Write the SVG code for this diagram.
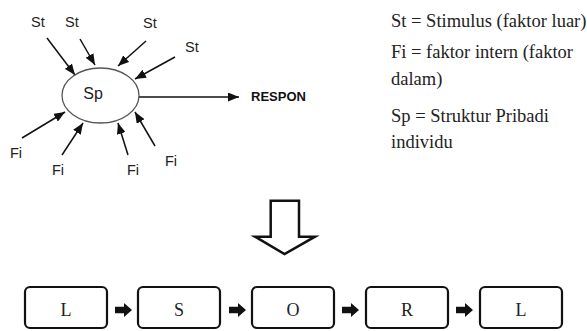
<svg xmlns="http://www.w3.org/2000/svg" width="587" height="331" viewBox="0 0 587 331">
<style>
.lbl{font-family:"Liberation Sans",Arial,sans-serif;font-size:14.5px;fill:#222}
.sp{font-family:"Liberation Sans",Arial,sans-serif;font-size:16px;fill:#222;text-anchor:middle}
.resp{font-family:"Liberation Sans",Arial,sans-serif;font-size:13px;font-weight:bold;fill:#111}
.leg{font-family:"Liberation Serif","Times New Roman",serif;font-size:18.5px;fill:#222}
.box{fill:#fff;stroke:#111;stroke-width:2.2}
.let{font-family:"Liberation Serif","Times New Roman",serif;font-size:18px;fill:#222;text-anchor:middle}
.arr{stroke:#111;stroke-width:1.5;fill:none;marker-end:url(#ah)}
.blk{fill:#111}
</style>
<defs>
<marker id="ah" markerUnits="userSpaceOnUse" markerWidth="11" markerHeight="9" refX="11" refY="4.5" orient="auto">
<path d="M0,0 L11,4.5 L0,9 z" fill="#111"/>
</marker>
</defs>
<g id="connectors">
<line class="arr" x1="47" y1="38" x2="75" y2="75"/>
<line class="arr" x1="80" y1="39" x2="95" y2="65"/>
<line class="arr" x1="146" y1="41" x2="118" y2="66"/>
<line class="arr" x1="175" y1="57" x2="135" y2="79"/>
<line class="arr" x1="22" y1="138" x2="65" y2="112"/>
<line class="arr" x1="62" y1="155" x2="83" y2="123"/>
<line class="arr" x1="128" y1="155" x2="118" y2="123"/>
<line class="arr" x1="155" y1="146" x2="135" y2="112"/>
<line class="arr" x1="139" y1="97" x2="239" y2="97"/>
<path class="blk" d="M115,306.7 h9 v-3.7 l8,7 l-8,7 v-3.7 h-9 z"/>
<path class="blk" d="M229,306.7 h9 v-3.7 l8,7 l-8,7 v-3.7 h-9 z"/>
<path class="blk" d="M342,306.7 h9 v-3.7 l8,7 l-8,7 v-3.7 h-9 z"/>
<path class="blk" d="M456,306.7 h9 v-3.7 l8,7 l-8,7 v-3.7 h-9 z"/>
</g>
<g id="sp">
<ellipse cx="100.5" cy="95.5" rx="38.5" ry="27.5" fill="#fff" stroke="#555" stroke-width="1.3"/>
<text class="sp" x="93" y="99">Sp</text>
</g>
<g id="st-labels">
<text class="lbl" x="31" y="27">St</text>
<text class="lbl" x="65" y="27">St</text>
<text class="lbl" x="143" y="28">St</text>
<text class="lbl" x="185" y="52">St</text>
</g>
<g id="fi-labels">
<text class="lbl" x="10" y="158">Fi</text>
<text class="lbl" x="52" y="175">Fi</text>
<text class="lbl" x="127" y="175">Fi</text>
<text class="lbl" x="165" y="166">Fi</text>
</g>
<g id="respon">
<text class="resp" x="251" y="101">RESPON</text>
</g>
<g id="legend">
<text class="leg" x="391" y="27">St = Stimulus (faktor luar)</text>
<text class="leg" x="391" y="58">Fi = faktor intern (faktor</text>
<text class="leg" x="391" y="85">dalam)</text>
<text class="leg" x="391" y="122">Sp = Struktur Pribadi</text>
<text class="leg" x="391" y="148">individu</text>
</g>
<g id="down-arrow">
<path d="M270.7,200.7 L299,200.7 L299,236.7 L315,236.7 L284.5,254 L255,236.7 L270.7,236.7 Z" fill="#fff" stroke="#111" stroke-width="2.5" stroke-linejoin="miter"/>
</g>
<g id="box-L1"><rect class="box" x="25" y="287" width="82" height="41" rx="5"/><text class="let" x="66" y="316">L</text></g>
<g id="box-S"><rect class="box" x="138" y="287" width="82" height="41" rx="5"/><text class="let" x="179" y="316">S</text></g>
<g id="box-O"><rect class="box" x="252" y="287" width="82" height="41" rx="5"/><text class="let" x="293" y="316">O</text></g>
<g id="box-R"><rect class="box" x="366" y="287" width="82" height="41" rx="5"/><text class="let" x="407" y="316">R</text></g>
<g id="box-L2"><rect class="box" x="480" y="287" width="82" height="41" rx="5"/><text class="let" x="521" y="316">L</text></g>
</svg>
